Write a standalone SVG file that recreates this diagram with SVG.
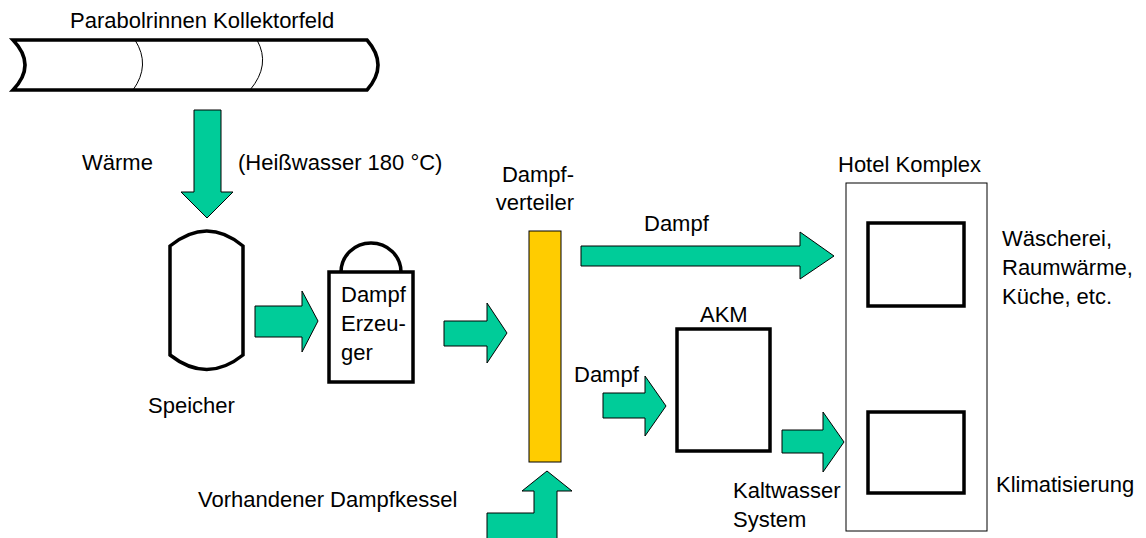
<svg xmlns="http://www.w3.org/2000/svg" width="1146" height="538" viewBox="0 0 1146 538">
<style>
text{font-family:"Liberation Sans",Arial,sans-serif;font-size:22px;fill:#000}
.arrow{fill:#00CC99;stroke:#000;stroke-width:1}
.thick{fill:#fff;stroke:#000;stroke-width:3.5}
.thin{fill:none;stroke:#000;stroke-width:1}
</style>
<rect width="1146" height="538" fill="#fff"/>
<g id="collector">
<path class="thick" d="M13,40 L367,40 Q389,65 367,90 L13,90 Q37,65 13,40 Z"/>
<path class="thin" d="M135,40 Q151,65 133,90"/>
<path class="thin" d="M257,40 Q271,65 250,90"/>
<text x="70" y="28">Parabolrinnen Kollektorfeld</text>
</g>
<g id="speicher">
<path class="thick" d="M170,246 Q207,216 243,246 L243,355 Q207,384 170,355 Z"/>
<text x="148" y="413">Speicher</text>
</g>
<g id="dampferzeuger">
<path class="thick" d="M341,272 A30,29 0 0 1 401,272"/>
<rect class="thick" x="329" y="272" width="84" height="110"/>
<text x="341" y="302">Dampf</text>
<text x="341" y="331">Erzeu-</text>
<text x="341" y="360">ger</text>
</g>
<g id="dampfverteiler">
<rect x="529" y="231" width="32" height="231" fill="#FFCC00" stroke="#000" stroke-width="1"/>
<text x="574" y="182" text-anchor="end">Dampf-</text>
<text x="574" y="210" text-anchor="end">verteiler</text>
</g>
<g id="akm">
<rect class="thick" x="677" y="329" width="93" height="122"/>
<text x="700" y="322">AKM</text>
</g>
<g id="hotel">
<rect x="846" y="183" width="141" height="348" fill="#fff" stroke="#000" stroke-width="1"/>
<text x="838" y="172">Hotel Komplex</text>
<rect class="thick" x="868" y="223" width="96" height="83"/>
<rect class="thick" x="868" y="412" width="96" height="81"/>
</g>
<g id="labels">
<text x="82" y="170">Wärme</text>
<text x="238" y="170">(Heißwasser 180 °C)</text>
<text x="644" y="231">Dampf</text>
<text x="574" y="382">Dampf</text>
<text x="733" y="498">Kaltwasser</text>
<text x="733" y="527">System</text>
<text x="1002" y="246">Wäscherei,</text>
<text x="1002" y="275">Raumwärme,</text>
<text x="1002" y="304">Küche, etc.</text>
<text x="996" y="492">Klimatisierung</text>
<text x="198" y="507">Vorhandener Dampfkessel</text>
</g>
<g id="connectors">
<polygon class="arrow" points="194,110 221,110 221,192 233,192 207,218 181,192 194,192"/>
<polygon class="arrow" points="255,306 302,306 302,291 318,321 302,352 302,337 255,337"/>
<polygon class="arrow" points="444,321 487,321 487,303 507,333 487,363 487,346 444,346"/>
<polygon class="arrow" points="581,246 800,246 800,232 834,256 800,279 800,266 581,266"/>
<polygon class="arrow" points="603,393 645,393 645,376 666,406 645,436 645,418 603,418"/>
<polygon class="arrow" points="782,430 823,430 823,412 844,442 823,472 823,453 782,453"/>
<polygon class="arrow" points="487,545 487,513 534,513 534,491 522,491 547,471 572,491 557,491 557,545"/>
</g>
</svg>
